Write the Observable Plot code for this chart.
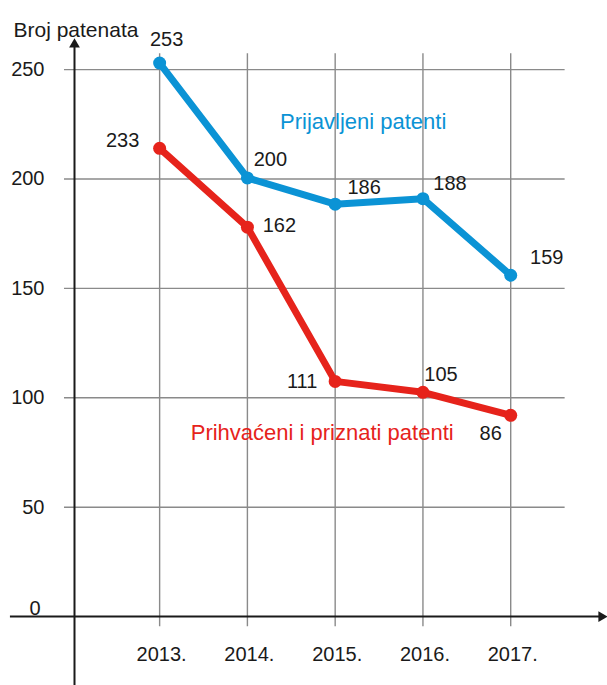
<!DOCTYPE html>
<html><head><meta charset="utf-8">
<script src="https://cdn.jsdelivr.net/npm/d3@7"></script>
<script src="https://cdn.jsdelivr.net/npm/@observablehq/plot@0.6"></script>
<style>body{margin:0;background:#fff} svg{display:block}</style>
</head><body><div id="chart"></div>
<script>
// ---- data ----
const years = [2013, 2014, 2015, 2016, 2017];
const yearLabels = ["2013.", "2014.", "2015.", "2016.", "2017."];
// positions of the points as drawn in the picture
const prijavljeni = [253, 200.5, 188.5, 191, 156];
const prihvaceni = [214, 178, 107.5, 102.5, 92];
// numbers printed next to the points
const prijavljeniLabels = [253, 200, 186, 188, 159];
const prihvaceniLabels = [233, 162, 111, 105, 86];
const yTicks = [0, 50, 100, 150, 200, 250];
const seriesNames = ["Prijavljeni patenti", "Prihvaćeni i priznati patenti"];
const yTitle = "Broj patenata";

// ---- layout / style (not data) ----
const BLUE = "#0b93d5", RED = "#e6231b", INK = "#1a1a1a", GRID = "#8a8a8a";
const blueOffsets = [[7,-23],[23,-18],[29,-17],[27,-15],[36,-18]];
const redOffsets = [[-37,-8],[32,-2],[-33,0],[18,-18],[-20,18]];

const blue = years.map((year, i) => ({year, value: prijavljeni[i], label: prijavljeniLabels[i], off: blueOffsets[i]}));
const red = years.map((year, i) => ({year, value: prihvaceni[i], label: prihvaceniLabels[i], off: redOffsets[i]}));

const pointLabels = pts => pts.map(p => Plot.text([p], {
  x: "year", y: "value", text: d => String(d.label),
  dx: p.off[0], dy: p.off[1], fontSize: 20, fill: INK
}));

const chart = Plot.plot({
  width: 607, height: 685,
  marginLeft: 74, marginRight: 2, marginTop: 40, marginBottom: 0,
  x: {domain: [2012.03, 2018.08], axis: null},
  y: {domain: [-31.5, 263.3], axis: null},
  style: {fontFamily: "'Liberation Sans', Arial, sans-serif", background: "#fff", color: INK},
  marks: [
    Plot.ruleY(yTicks.filter(d => d > 0), {x1: 2011.916, x2: 2017.62, stroke: GRID, strokeWidth: 1.4}),
    Plot.ruleX(years, {y1: -4.6, y2: 257.3, stroke: GRID, strokeWidth: 1.4}),
    Plot.ruleY([0], {x1: 2011.30, x2: 2018.04, stroke: INK, strokeWidth: 2}),
    Plot.ruleX([2012.03], {y1: -31.5, y2: 261.5, stroke: INK, strokeWidth: 2}),
    Plot.dot([0], {x: 2018.08, y: 0, symbol: "triangle", rotate: 90, r: 4, fill: INK, dx: -4}),
    Plot.dot([0], {x: 2012.03, y: 263.3, symbol: "triangle", r: 4, fill: INK, dy: 4}),
    Plot.line(blue, {x: "year", y: "value", stroke: BLUE, strokeWidth: 7, strokeLinejoin: "round", strokeLinecap: "round"}),
    Plot.dot(blue, {x: "year", y: "value", r: 6.5, fill: BLUE}),
    Plot.line(red, {x: "year", y: "value", stroke: RED, strokeWidth: 7, strokeLinejoin: "round", strokeLinecap: "round"}),
    Plot.dot(red, {x: "year", y: "value", r: 6.5, fill: RED}),
    ...pointLabels(blue),
    ...pointLabels(red),
    Plot.text([blue[2]], {x: "year", y: "value", text: () => seriesNames[0], dx: 28, dy: -82, fontSize: 22, fill: BLUE}),
    Plot.text([red[2]], {x: "year", y: "value", text: () => seriesNames[1], dx: -13, dy: 52, fontSize: 22, fill: RED}),
    Plot.text(yTicks.filter(d => d > 0), {y: d => d, frameAnchor: "left", dx: -30, textAnchor: "end", text: d => String(d), fontSize: 20, fill: INK}),
    Plot.text([0], {y: d => d, frameAnchor: "left", dx: -34, dy: -8, textAnchor: "end", text: d => String(d), fontSize: 20, fill: INK}),
    Plot.text(years, {x: d => d, y: () => 0, text: (d, i) => yearLabels[i], dx: 2, dy: 38, fontSize: 20, fill: INK}),
    Plot.text([yTitle], {frameAnchor: "top-left", text: d => d, dx: -61, dy: -18, textAnchor: "start", fontSize: 21, fill: INK})
  ]
});
document.getElementById("chart").append(chart);
</script>
</body></html>
